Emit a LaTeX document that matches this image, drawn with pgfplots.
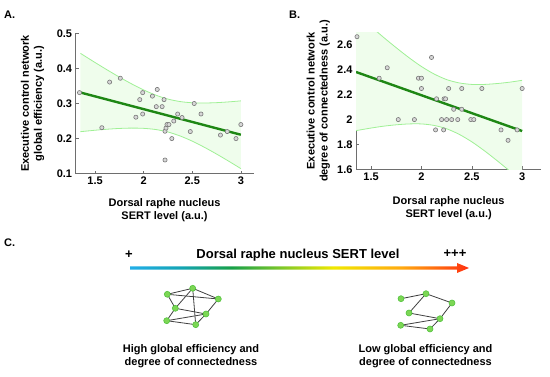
\documentclass[border=0pt]{standalone}
\usepackage{fontspec}
\setmainfont{Liberation Sans}
\usepackage{pgfplots}
\pgfplotsset{compat=1.18}

\definecolor{bandfill}{RGB}{239,253,236}
\definecolor{bandedge}{RGB}{160,240,150}
\definecolor{regline}{RGB}{30,135,20}
\definecolor{ptdraw}{RGB}{120,120,120}
\definecolor{ptfill}{RGB}{215,215,215}
\definecolor{axgray}{RGB}{110,110,110}
\definecolor{nodefill}{RGB}{125,214,85}
\definecolor{nodeedge}{RGB}{80,195,60}
\definecolor{g1}{RGB}{34,174,232}
\definecolor{g2}{RGB}{20,164,180}
\definecolor{g3}{RGB}{24,160,72}
\definecolor{g4}{RGB}{128,200,40}
\definecolor{g5}{RGB}{240,232,0}
\definecolor{g6}{RGB}{255,170,16}
\definecolor{g7}{RGB}{255,48,16}
\pgfdeclarehorizontalshading{sert}{100bp}{color(0bp)=(g1); color(25bp)=(g1); color(32.5bp)=(g2); color(40bp)=(g3); color(47.5bp)=(g4); color(55bp)=(g5); color(65bp)=(g6); color(75bp)=(g7); color(100bp)=(g7)}

\tikzset{lab/.style={font=\fontsize{11}{13}\selectfont\bfseries, align=center, inner sep=0pt}}

\pgfplotsset{
  myax/.style={
    scale only axis,
    axis x line*=bottom, axis y line*=left,
    axis line style={axgray,-,line width=0.6pt},
    every inner x axis line/.append style={-},
    every inner y axis line/.append style={-},
    every outer x axis line/.append style={-},
    every outer y axis line/.append style={-},
    tick style={axgray,line width=0.5pt},
    major tick length=3pt, tick align=inside,
    tick label style={font=\fontsize{11}{13}\selectfont\bfseries},
    /pgf/number format/assume math mode=true,
    clip=true,
  },
  scat/.style={only marks, mark=*, mark size=2.1pt, mark options={draw=ptdraw, fill=ptfill, line width=0.6pt}},
  band/.style={bandedge, line width=0.8pt, smooth},
  reg/.style={regline, line width=2.4pt},
  edge/.style={black!75, line width=0.8pt},
  netnode/.style={only marks, mark=*, mark size=3pt, mark options={draw=nodeedge, fill=nodefill, line width=0.6pt}},
}

\begin{document}
\begin{tikzpicture}[x=1pt,y=1pt]
\useasboundingbox (0,0) rectangle (550,377);

% ---------------- Panel A ----------------
\begin{axis}[myax,
  at={(75.6pt,203.3pt)}, anchor=south west,
  width=177.9pt, height=140.4pt,
  xmin=1.3, xmax=3.13, ymin=0.1, ymax=0.5,
  xtick={1.5,2,2.5,3}, ytick={0.1,0.2,0.3,0.4,0.5},
  xlabel={Dorsal raphe nucleus\\SERT level (a.u.)},
  ylabel={Executive control network\\global efficiency (a.u.)},
  every axis x label/.style={lab, at={(axis description cs:0.5,-0.173)}, anchor=north},
  every axis y label/.style={lab, at={(axis description cs:-0.176,0.5)}, anchor=south, rotate=90},
]
\addplot[fill=bandfill, draw=none] coordinates {
(1.35,0.4429) (1.5,0.4168) (1.625,0.3957) (1.75,0.3753) (1.875,0.3561) (2.0,0.3386) (2.125,0.3238) (2.25,0.3126) (2.375,0.3055) (2.5,0.3021) (2.625,0.3014) (2.75,0.3024) (2.875,0.3046) (3.0,0.3075)
(3.0,0.1145) (2.875,0.1356) (2.75,0.1560) (2.625,0.1752) (2.5,0.1927) (2.375,0.2075) (2.25,0.2188) (2.125,0.2258) (2.0,0.2292) (1.875,0.2299) (1.75,0.2289) (1.625,0.2267) (1.5,0.2238) (1.35,0.2197)
} -- cycle;
\addplot[band] coordinates {
(1.35,0.4429) (1.5,0.4168) (1.625,0.3957) (1.75,0.3753) (1.875,0.3561) (2.0,0.3386) (2.125,0.3238) (2.25,0.3126) (2.375,0.3055) (2.5,0.3021) (2.625,0.3014) (2.75,0.3024) (2.875,0.3046) (3.0,0.3075)};
\addplot[band] coordinates {
(1.35,0.2197) (1.5,0.2238) (1.625,0.2267) (1.75,0.2289) (1.875,0.2299) (2.0,0.2292) (2.125,0.2258) (2.25,0.2188) (2.375,0.2075) (2.5,0.1927) (2.625,0.1752) (2.75,0.1560) (2.875,0.1356) (3.0,0.1145)};
\addplot[reg] coordinates {(1.34,0.332) (3.0,0.211)};
\addplot[scat] coordinates {
(1.34,0.331) (1.57,0.231) (1.65,0.361) (1.76,0.372) (1.92,0.261) (1.96,0.311) (1.99,0.331) (1.99,0.270)
(2.09,0.321) (2.13,0.291) (2.14,0.340) (2.19,0.291) (2.21,0.311) (2.22,0.221) (2.23,0.230) (2.24,0.240)
(2.26,0.240) (2.22,0.139) (2.29,0.200) (2.31,0.250) (2.35,0.270) (2.395,0.260) (2.48,0.220) (2.52,0.300)
(2.59,0.270) (2.79,0.210) (2.86,0.220) (2.95,0.200) (3.0,0.240)};
\end{axis}

% ---------------- Panel B ----------------
\begin{axis}[myax,
  at={(356pt,207.7pt)}, anchor=south west,
  width=185.3pt, height=136.7pt,
  xmin=1.35, xmax=3.19, ymin=1.6, ymax=2.7,
  xtick={1.5,2,2.5,3}, ytick={1.6,1.8,2,2.2,2.4,2.6},
  xlabel={Dorsal raphe nucleus\\SERT level (a.u.)},
  ylabel={Executive control network\\degree of connectedness (a.u.)},
  every axis x label/.style={lab, at={(axis description cs:0.5,-0.195)}, anchor=north},
  every axis y label/.style={lab, at={(axis description cs:-0.139,0.5)}, anchor=south, rotate=90},
]
\addplot[fill=bandfill, draw=none] coordinates {
(1.35,2.855) (1.5,2.748) (1.625,2.661) (1.75,2.578) (1.875,2.499) (2.0,2.427) (2.125,2.367) (2.25,2.322) (2.375,2.295) (2.5,2.283) (2.625,2.283) (2.75,2.290) (2.875,2.301) (3.0,2.316)
(3.0,1.500) (2.875,1.587) (2.75,1.670) (2.625,1.749) (2.5,1.821) (2.375,1.881) (2.25,1.926) (2.125,1.953) (2.0,1.965) (1.875,1.965) (1.75,1.958) (1.625,1.947) (1.5,1.932) (1.35,1.911)
} -- cycle;
\addplot[band] coordinates {
(1.35,2.855) (1.5,2.748) (1.625,2.661) (1.75,2.578) (1.875,2.499) (2.0,2.427) (2.125,2.367) (2.25,2.322) (2.375,2.295) (2.5,2.283) (2.625,2.283) (2.75,2.290) (2.875,2.301) (3.0,2.316)};
\addplot[band] coordinates {
(1.35,1.911) (1.5,1.932) (1.625,1.947) (1.75,1.958) (1.875,1.965) (2.0,1.965) (2.125,1.953) (2.25,1.926) (2.375,1.881) (2.5,1.821) (2.625,1.749) (2.75,1.670) (2.875,1.587) (3.0,1.500)};
\addplot[reg] coordinates {(1.35,2.383) (3.0,1.908)};
\addplot[scat] coordinates {
(1.36,2.667) (1.58,2.333) (1.66,2.417) (1.77,2.0) (1.93,2.0) (1.97,2.333) (2.0,2.333) (2.0,2.25)
(2.10,2.5) (2.15,2.167) (2.14,1.917) (2.225,2.167) (2.24,2.167) (2.2,2.0) (2.22,1.917) (2.23,1.583)
(2.25,2.0) (2.27,2.25) (2.30,2.0) (2.32,2.083) (2.36,2.0) (2.40,2.25) (2.40,2.083) (2.49,2.0)
(2.52,2.0) (2.60,2.25) (2.79,1.917) (2.86,1.833) (2.95,1.917) (3.0,2.25)};
\end{axis}

% ---------------- Panel C (pixel-coordinate overlay axis) ----------------
\begin{axis}[at={(0pt,0pt)}, anchor=south west, scale only axis,
  width=550pt, height=377pt, xmin=0, xmax=550, ymin=0, ymax=377,
  hide axis, clip=false]
% gradient arrow
\shade[shading=sert] (axis cs:130,107.4) -- (axis cs:457,107.4) -- (axis cs:457,104) -- (axis cs:469,109) -- (axis cs:457,114) -- (axis cs:457,110.6) -- (axis cs:130,110.6) -- cycle;
% left network edges
\addplot[edge] coordinates {(167.3,82.7) (192.7,88.7)};
\addplot[edge] coordinates {(167.3,82.7) (218.3,78)};
\addplot[edge] coordinates {(192.7,88.7) (218.3,78)};
\addplot[edge] coordinates {(167.3,82.7) (175.3,68.7)};
\addplot[edge] coordinates {(192.7,88.7) (175.3,68.7)};
\addplot[edge] coordinates {(192.7,88.7) (195.7,52.3)};
\addplot[edge] coordinates {(218.3,78) (206,63)};
\addplot[edge] coordinates {(175.3,68.7) (206,63)};
\addplot[edge] coordinates {(175.3,68.7) (166.7,56.3)};
\addplot[edge] coordinates {(166.7,56.3) (206,63)};
\addplot[edge] coordinates {(166.7,56.3) (195.7,52.3)};
\addplot[edge] coordinates {(206,63) (195.7,52.3)};
\addplot[netnode] coordinates {(167.3,82.7) (192.7,88.7) (218.3,78) (175.3,68.7) (206,63) (166.7,56.3) (195.7,52.3)};
% right network edges
\addplot[edge] coordinates {(401,78.3) (426,83.3)};
\addplot[edge] coordinates {(426,83.3) (452,74)};
\addplot[edge] coordinates {(426,83.3) (409,64)};
\addplot[edge] coordinates {(409,64) (440,58.3)};
\addplot[edge] coordinates {(452,74) (440,58.3)};
\addplot[edge] coordinates {(400.7,51.7) (440,58.3)};
\addplot[edge] coordinates {(400.7,51.7) (430,48)};
\addplot[edge] coordinates {(430,48) (440,58.3)};
\addplot[netnode] coordinates {(401,78.3) (426,83.3) (452,74) (409,64) (440,58.3) (400.7,51.7) (430,48)};
% texts
\node[font=\fontsize{13}{15}\selectfont\bfseries] at (axis cs:129,122) {+};
\node[font=\fontsize{13}{15}\selectfont\bfseries] at (axis cs:298,122) {Dorsal raphe nucleus SERT level};
\node[font=\fontsize{13}{15}\selectfont\bfseries] at (axis cs:455,123) {+++};
\node[font=\fontsize{11}{13}\selectfont\bfseries, align=center] at (axis cs:191,20.5) {High global efficiency and\\degree of connectedness};
\node[font=\fontsize{11}{13}\selectfont\bfseries, align=center] at (axis cs:425.5,20.5) {Low global efficiency and\\degree of connectedness};
\end{axis}

% panel letters
\node[anchor=base west, font=\fontsize{11}{13}\selectfont\bfseries, inner sep=0pt] at (4,358) {A.};
\node[anchor=base west, font=\fontsize{11}{13}\selectfont\bfseries, inner sep=0pt] at (289,358) {B.};
\node[anchor=base west, font=\fontsize{11}{13}\selectfont\bfseries, inner sep=0pt] at (4,130) {C.};
\end{tikzpicture}
\end{document}
